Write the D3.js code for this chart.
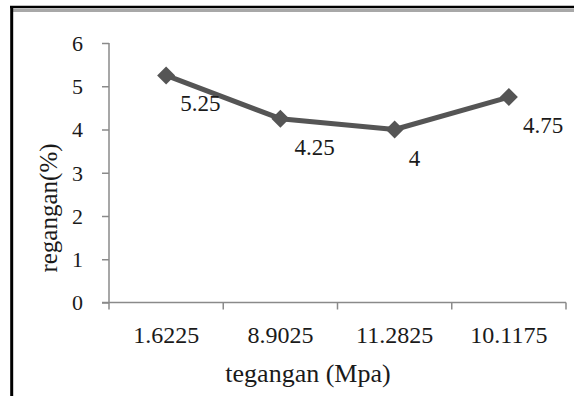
<!DOCTYPE html>
<html><head><meta charset="utf-8">
<script src="https://cdn.jsdelivr.net/npm/d3@7"></script>
<style>
html,body{margin:0;padding:0;background:#fff;}
svg{display:block;}
svg text{font-family:"Liberation Serif","Times New Roman",serif !important;fill:#1a1a1a;}
</style></head>
<body>
<script>
const categories = ["1.6225", "8.9025", "11.2825", "10.1175"];
const values = [5.25, 4.25, 4, 4.75];
const yTicks = [0, 1, 2, 3, 4, 5, 6];
const xTitle = "tegangan (Mpa)";
const yTitle = "regangan(%)";

const W = 574, H = 396;
const svg = d3.select("body").append("svg").attr("width", W).attr("height", H);

// frame
svg.append("rect").attr("x", 0).attr("y", 0).attr("width", W).attr("height", H).attr("fill", "#fff");
svg.append("line").attr("x1", 10).attr("x2", W).attr("y1", 7).attr("y2", 7).attr("stroke", "#000").attr("stroke-width", 2.5);
svg.append("line").attr("x1", 13).attr("x2", W).attr("y1", 10.5).attr("y2", 10.5).attr("stroke", "#a8a8a8").attr("stroke-width", 3);
svg.append("line").attr("x1", 11.7).attr("x2", 11.7).attr("y1", 6).attr("y2", H).attr("stroke", "#000").attr("stroke-width", 3);

const x = d3.scaleBand().domain(categories).range([109, 566]).padding(0);
const y = d3.scaleLinear().domain([0, 6]).range([302.5, 43]);

const axisColor = "#8a8a8a";

// y axis
const yAxis = svg.append("g").attr("transform", "translate(109,0)")
  .call(d3.axisLeft(y).tickValues(yTicks).tickSize(7).tickPadding(19).tickFormat(d3.format("d")));
yAxis.attr("font-family", null);
yAxis.select(".domain").attr("stroke", axisColor).attr("stroke-width", 1.5).attr("d", `M0,${y(6)}V${y(0)}`);
yAxis.selectAll(".tick line").attr("stroke", axisColor).attr("stroke-width", 1.5);
yAxis.selectAll(".tick text").attr("font-size", 22).attr("fill", "#1a1a1a").attr("dy", "0.34em");

// x axis
const xAxis = svg.append("g").attr("transform", `translate(0,${y(0)})`)
  .call(d3.axisBottom(x).tickSize(0).tickPadding(0));
xAxis.attr("font-family", null);
xAxis.select(".domain").attr("stroke", axisColor).attr("stroke-width", 1.5).attr("d", `M${x.range()[0] - 7},0H${x.range()[1]}`);
xAxis.selectAll(".tick line").remove();
xAxis.selectAll(".tick text").attr("font-size", 24).attr("fill", "#1a1a1a").attr("y", 40.5).attr("dy", 0);
// band boundary ticks
const bounds = categories.map(c => x(c)).concat([x.range()[1]]);
svg.append("g").selectAll("line").data(bounds).join("line")
  .attr("x1", d => d).attr("x2", d => d)
  .attr("y1", y(0)).attr("y2", y(0) + 7)
  .attr("stroke", axisColor).attr("stroke-width", 1.5);

// titles
svg.append("text").attr("x", 308).attr("y", 382).attr("text-anchor", "middle")
  .attr("font-size", 26).text(xTitle);
svg.append("text").attr("transform", "translate(57,208) rotate(-90)").attr("text-anchor", "middle")
  .attr("font-size", 25).text(yTitle);

// line
const pts = categories.map((c, i) => [x(c) + x.bandwidth() / 2, y(values[i])]);
svg.append("path").datum(pts)
  .attr("d", d3.line())
  .attr("fill", "none").attr("stroke", "#555555").attr("stroke-width", 5).attr("stroke-linejoin", "round");

// markers
svg.append("g").selectAll("path").data(pts).join("path")
  .attr("transform", d => `translate(${d[0]},${d[1]})`)
  .attr("d", "M0,-9L9,0L0,9L-9,0Z")
  .attr("fill", "#555555");

// data labels
svg.append("g").selectAll("text").data(pts).join("text")
  .attr("x", d => d[0] + 14).attr("y", d => d[1] + 36)
  .attr("font-size", 23)
  .text((d, i) => values[i]);
</script>
</body></html>
